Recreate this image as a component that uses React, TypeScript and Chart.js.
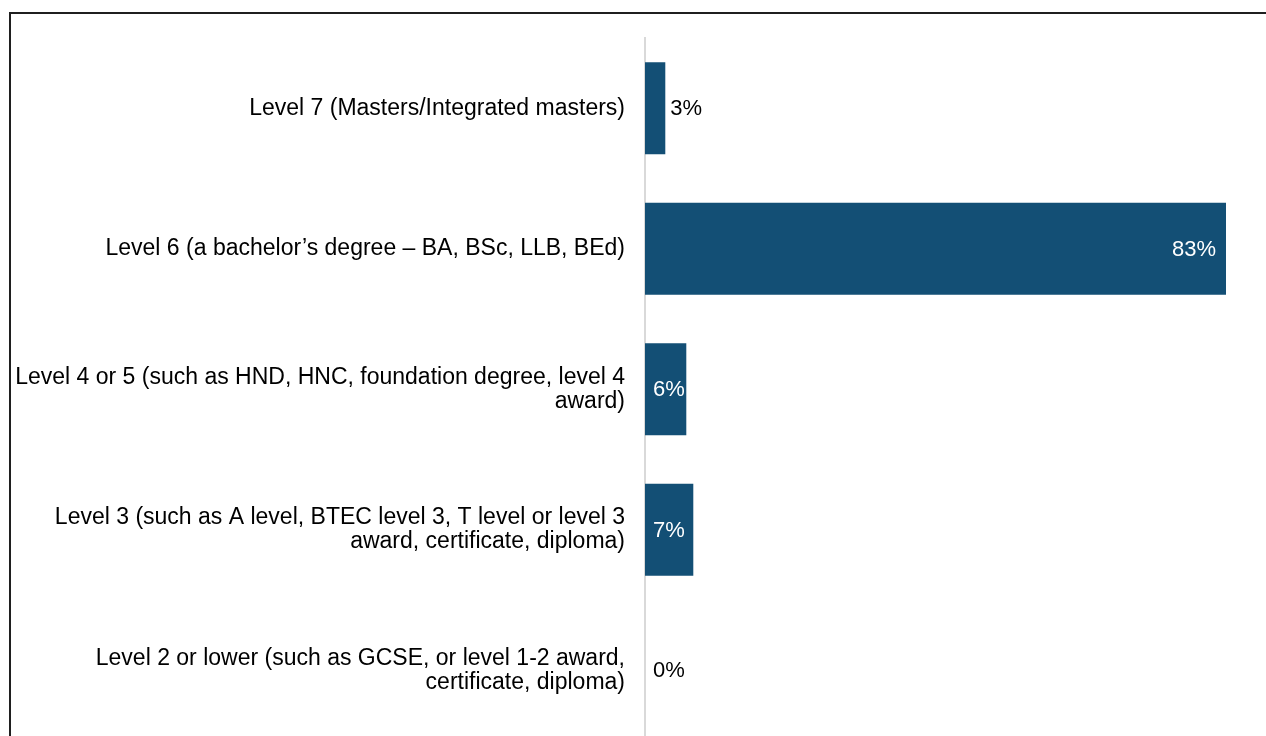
import React, { useEffect, useRef } from "react";
import { Chart, registerables } from "chart.js";

Chart.register(...registerables);

const categories: (string | string[])[] = [
  "Level 7 (Masters/Integrated masters)",
  "Level 6 (a bachelor\u2019s degree \u2013 BA, BSc, LLB, BEd)",
  ["Level 4 or 5 (such as HND, HNC, foundation degree, level 4", "award)"],
  ["Level 3 (such as A level, BTEC level 3, T level or level 3", "award, certificate, diploma)"],
  ["Level 2 or lower (such as GCSE, or level 1-2 award,", "certificate, diploma)"],
];
const values: number[] = [2.9, 83, 5.9, 6.9, 0];
const valueLabels: string[] = ["3%", "83%", "6%", "7%", "0%"];

const BAR_COLOR = "#134F75";
const FONT = "'Liberation Sans', Arial, sans-serif";

const framePlugin = {
  id: "frame",
  beforeDraw(chart: any) {
    const ctx = chart.ctx;
    ctx.save();
    ctx.fillStyle = "#1f1f1f";
    ctx.fillRect(9, 12, 2, 900);
    ctx.fillRect(9, 12, 1400, 2);
    ctx.restore();
  },
};

const labelPlugin = {
  id: "valueLabels",
  afterDatasetsDraw(chart: any) {
    const ctx = chart.ctx;
    const meta = chart.getDatasetMeta(0);
    ctx.save();
    ctx.font = `22px ${FONT}`;
    ctx.textBaseline = "middle";
    meta.data.forEach((bar: any, i: number) => {
      const text = valueLabels[i];
      const tw = ctx.measureText(text).width;
      const start = bar.base;
      const end = bar.x;
      const width = end - start;
      if (width > tw + 6) {
        const right = Math.max(end - 10, start + 8 + tw);
        ctx.fillStyle = "#ffffff";
        ctx.textAlign = "right";
        ctx.fillText(text, right, bar.y + 1);
      } else {
        ctx.fillStyle = "#000000";
        ctx.textAlign = "left";
        ctx.fillText(text, Math.max(end + 5, start + 8), bar.y + 1);
      }
    });
    ctx.restore();
  },
};

export default function App() {
  const ref = useRef<HTMLCanvasElement | null>(null);
  useEffect(() => {
    if (!ref.current) return;
    const chart = new Chart(ref.current, {
      type: "bar",
      data: {
        labels: categories as any,
        datasets: [
          {
            data: values,
            backgroundColor: BAR_COLOR,
            borderWidth: 0,
            barPercentage: 0.655,
            categoryPercentage: 1,
          },
        ],
      },
      options: {
        indexAxis: "y",
        responsive: false,
        animation: false,
        devicePixelRatio: 1,
        layout: { padding: { top: 38, bottom: 19.5, left: 0, right: 33 } },
        plugins: {
          legend: { display: false },
          tooltip: { enabled: false },
        },
        scales: {
          x: {
            display: false,
            min: 0,
            max: 86,
          },
          y: {
            grid: { display: false, drawTicks: false },
            border: { display: true, color: "#d9d9d9", width: 2 },
            ticks: {
              padding: 20,
              color: "#000000",
              font: { family: FONT, size: 23, lineHeight: 1.045 },
            },
            afterFit(scale: any) {
              scale.width = 645;
              scale.paddingTop = 0;
              scale.paddingBottom = 0;
            },
          },
        },
      },
      plugins: [framePlugin, labelPlugin],
    });
    return () => chart.destroy();
  }, []);
  return (
    <div
      style={{
        position: "fixed",
        left: 0,
        top: 0,
        width: 1266,
        height: 736,
        overflow: "hidden",
        background: "#ffffff",
      }}
    >
      <canvas ref={ref} width={1280} height={760} style={{ width: 1280, height: 760 }} />
    </div>
  );
}
